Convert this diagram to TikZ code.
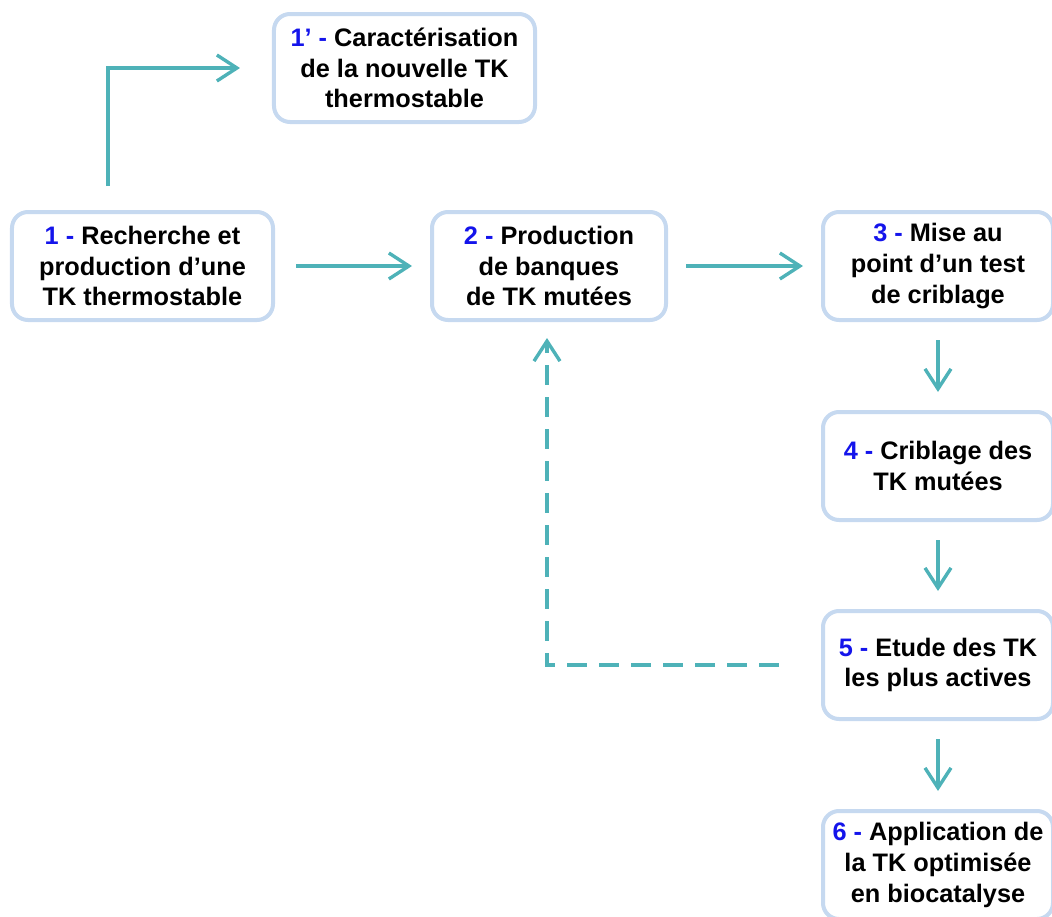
\documentclass[tikz,border=0pt]{standalone}
\usepackage{fontspec}
\setmainfont{Liberation Sans}
\usetikzlibrary{arrows.meta,positioning,calc}
\definecolor{boxblue}{RGB}{198,217,240}
\definecolor{arrteal}{RGB}{78,178,184}
\definecolor{stepblue}{RGB}{20,20,235}
\newcommand{\stepno}[1]{{\color{stepblue}#1 -}}
\tikzset{>={Straight Barb[length=5mm,width=6.5mm]},
  stepbox/.style={draw=boxblue, line width=1mm, rounded corners=4mm, fill=white,
    align=center, inner sep=0pt, minimum height=27mm,
    font=\bfseries\fontsize{18}{21.8}\selectfont},
  arr/.style={->, draw=arrteal, line width=0.85mm, shorten <=4.5mm, shorten >=4.5mm}}

\begin{document}
\begin{tikzpicture}[x=0.25mm, y=-0.25mm]
  \useasboundingbox (0,0) rectangle (1052,917);
  \node[stepbox, minimum width=65.25mm] (b1p) at (404.5,68)
    {\stepno{1’} Caractérisation\\de la nouvelle TK\\thermostable};
  \node[stepbox, minimum width=65.25mm] (b1) at (142.5,266)
    {\stepno{1} Recherche et\\production d’une\\TK thermostable};
  \node[stepbox, minimum width=58.5mm] (b2) at (549,266)
    {\stepno{2} Production\\de banques\\de TK mutées};
  \node[stepbox, minimum width=57.5mm] (b3) at (938,266)
    {\stepno{3} Mise au\\point d’un test\\de criblage};
  \node[stepbox, minimum width=57.5mm] (b4) at (938,466)
    {\stepno{4} Criblage des\\TK mutées};
  \node[stepbox, minimum width=57.5mm] (b5) at (938,665)
    {\stepno{5} Etude des TK\\les plus actives};
  \node[stepbox, minimum width=57.5mm] (b6) at (938,865)
    {\stepno{6} Application de\\la TK optimisée\\en biocatalyse};
  \coordinate (up) at (108,186);
  \draw[arr, shorten <=0mm, shorten >=8mm] (up) |- (b1p.west);
  \draw[arr, shorten <=5.25mm] (b1) -- (b2);
  \draw[arr] (b2) -- (b3);
  \draw[arr] (b3) -- (b4);
  \draw[arr] (b4) -- (b5);
  \draw[arr] (b5) -- (b6);
  \draw[arr, dash pattern=on 5mm off 3mm, shorten <=10.5mm, shorten >=4mm]
    (b5.west) -| ([xshift=-0.5mm]b2.south);
\end{tikzpicture}
\end{document}
